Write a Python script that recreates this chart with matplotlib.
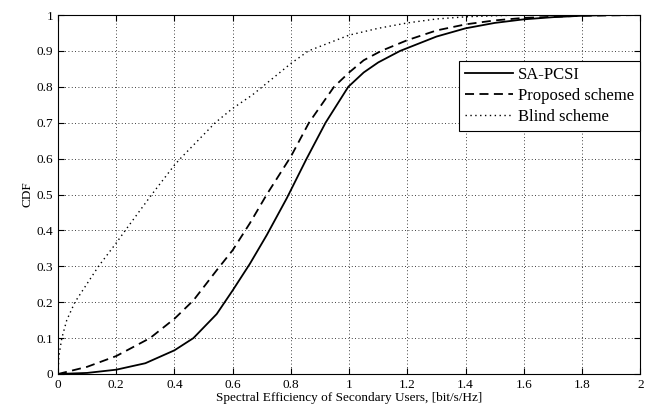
import matplotlib
matplotlib.use("Agg")
import matplotlib.pyplot as plt

# Data
sa_x = [0, 0.1, 0.2, 0.3, 0.4, 0.465, 0.545, 0.6, 0.659, 0.717, 0.786, 0.854, 0.919, 0.997, 1.05, 1.1, 1.175, 1.3, 1.4, 1.5, 1.6, 1.7, 1.8, 1.9, 2.0]
sa_y = [0, 0.003, 0.012, 0.03, 0.066, 0.1, 0.167, 0.233, 0.307, 0.387, 0.49, 0.6, 0.7, 0.8, 0.84, 0.868, 0.9, 0.94, 0.963, 0.978, 0.988, 0.994, 0.998, 1.0, 1.0]

prop_x = [0, 0.1, 0.2, 0.316, 0.4, 0.465, 0.545, 0.6, 0.659, 0.717, 0.8, 0.862, 0.948, 1.0, 1.05, 1.11, 1.2, 1.3, 1.4, 1.5, 1.6, 1.8, 2.0]
prop_y = [0, 0.02, 0.05, 0.1, 0.154, 0.205, 0.289, 0.345, 0.42, 0.5, 0.606, 0.7, 0.8, 0.84, 0.874, 0.9, 0.93, 0.957, 0.974, 0.985, 0.992, 0.998, 1.0]

blind_x = [0, 0.003, 0.013, 0.03, 0.058, 0.139, 0.2, 0.231, 0.322, 0.4, 0.42, 0.54, 0.6, 0.667, 0.8, 0.86, 1.0, 1.1, 1.2, 1.3, 1.4, 1.5, 1.6, 2.0]
blind_y = [0, 0.05, 0.1, 0.15, 0.2, 0.3, 0.365, 0.4, 0.5, 0.582, 0.6, 0.7, 0.74, 0.777, 0.865, 0.9, 0.944, 0.963, 0.978, 0.989, 0.995, 0.998, 1.0, 1.0]

labels = ["SA-PCSI", "Proposed scheme", "Blind scheme"]
xticks = [0, 0.2, 0.4, 0.6, 0.8, 1, 1.2, 1.4, 1.6, 1.8, 2]
xtick_labels = ["0", "0.2", "0.4", "0.6", "0.8", "1", "1.2", "1.4", "1.6", "1.8", "2"]
yticks = [0, 0.1, 0.2, 0.3, 0.4, 0.5, 0.6, 0.7, 0.8, 0.9, 1]
ytick_labels = ["0", "0.1", "0.2", "0.3", "0.4", "0.5", "0.6", "0.7", "0.8", "0.9", "1"]

plt.rcParams['font.family'] = ['Liberation Serif', 'DejaVu Serif']
plt.rcParams['font.size'] = 9.5

fig = plt.figure(figsize=(6.52, 4.15), dpi=100)
ax = fig.add_axes([0.089, 0.0988, 0.893, 0.865])

ax.plot(sa_x, sa_y, color='black', linestyle='-', linewidth=1.3, label=labels[0])
ax.plot(prop_x, prop_y, color='black', linestyle=(0, (5, 3)), linewidth=1.3, label=labels[1])
ax.plot(blind_x, blind_y, color='black', linestyle=(0, (1, 2.5)), linewidth=1.0, label=labels[2])

ax.set_xlim(0, 2)
ax.set_ylim(0, 1)
ax.set_xticks(xticks)
ax.set_xticklabels(xtick_labels)
ax.set_yticks(yticks)
ax.set_yticklabels(ytick_labels)
ax.tick_params(direction='in', top=True, right=True, length=4, width=0.8, colors='black', labelsize=9.5)
ax.grid(True, color='black', linestyle=(0, (1, 3)), linewidth=0.6)
for s in ax.spines.values():
    s.set_linewidth(0.8)

ax.set_xlabel("Spectral Efficiency of Secondary Users, [bit/s/Hz]", fontsize=9.5, labelpad=1)
ax.set_ylabel("CDF", fontsize=9.5, labelpad=2)

leg = ax.legend(loc='upper right', bbox_to_anchor=(1.0, 0.872), frameon=True, fancybox=False,
                edgecolor='black', framealpha=1, fontsize=12, handlelength=2.9,
                borderaxespad=0, handletextpad=0.3, labelspacing=0.3, borderpad=0.35)
leg.get_frame().set_linewidth(0.8)

fig.savefig("out.png", dpi=100)
